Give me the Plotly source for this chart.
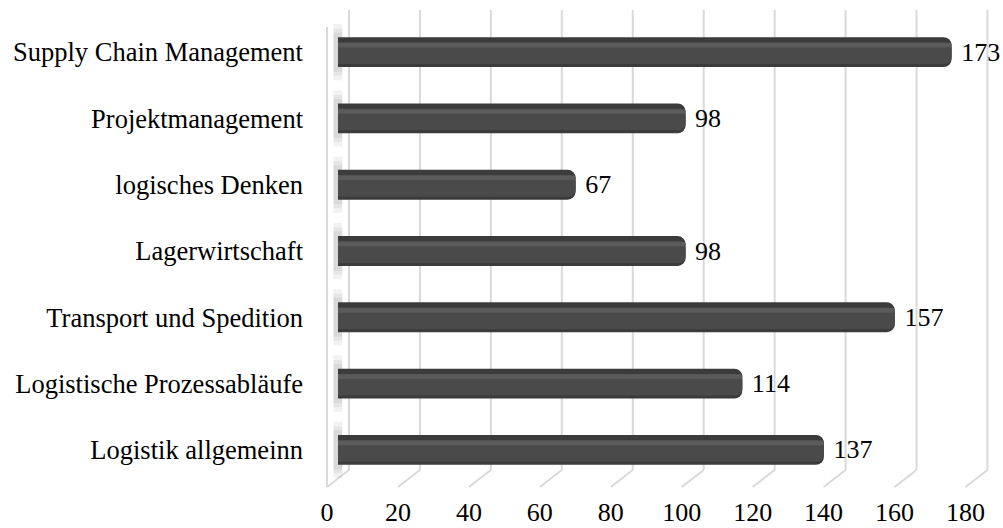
import plotly.graph_objects as go

categories = ["Supply Chain Management", "Projektmanagement", "logisches Denken",
              "Lagerwirtschaft", "Transport und Spedition",
              "Logistische Prozessabläufe", "Logistik allgemeinn"]
values = [173, 98, 67, 98, 157, 114, 137]
tick_values = [0, 20, 40, 60, 80, 100, 120, 140, 160, 180]
tick_labels = [str(v) for v in tick_values]

W, H = 1003, 528
ML, MR, MT, MB = 320, 0, 19, 45
PW = W - ML - MR
PH = H - MT - MB
S = 3.547            # px per unit
FRONT0 = 327         # px of value 0 on the front plane
DEPTH_X = 22         # px depth offset (x)
DEPTH_Y = 17         # px depth offset (y)
D = DEPTH_X / S

x2_lo = -(FRONT0 - ML) / S
x2_range = [x2_lo, x2_lo + PW / S]
x_range = [x2_range[0] - D / 2, x2_range[1] - D / 2]

def py(p):
    return (H - MB - p) / PH

FONT = "Liberation Serif, Times New Roman, serif"
GRID = "#d9d9d9"
BAR_W = 0.45

fig = go.Figure()

# bar layers (3D cylinder look)
fig.add_trace(go.Bar(y=categories, x=values, orientation="h", width=BAR_W,
                     marker=dict(color="#3b3b3b", cornerradius=8, line=dict(width=0)),
                     texttemplate=" %{x}", textposition="outside",
                     textfont=dict(family=FONT, size=26, color="#000000"),
                     cliponaxis=False, hoverinfo="x+y"))
fig.add_trace(go.Bar(y=categories, x=values, orientation="h", width=0.33, offset=-0.15,
                     marker=dict(color="#4a4a4a", cornerradius=7, line=dict(width=0)),
                     hoverinfo="skip"))
fig.add_trace(go.Bar(y=categories, x=values, orientation="h", width=0.07, offset=-0.14,
                     marker=dict(color="#5b5b5b", cornerradius=2, line=dict(width=0)),
                     hoverinfo="skip"))
# invisible trace to carry the front tick axis
fig.add_trace(go.Scatter(x=[tick_values[0], tick_values[-1]], y=[categories[0], categories[0]],
                         xaxis="x2", mode="markers", marker=dict(opacity=0),
                         hoverinfo="skip", showlegend=False))

shapes = []
for v in tick_values:
    shapes.append(dict(type="line", xref="x2", yref="paper",
                       x0=v + D, x1=v + D, y0=py(10), y1=py(470),
                       line=dict(color=GRID, width=2), layer="below"))
    shapes.append(dict(type="line", xref="x2", yref="paper",
                       x0=v + D, x1=v, y0=py(470), y1=py(470 + DEPTH_Y),
                       line=dict(color=GRID, width=2), layer="below"))
# left wall front edge
shapes.append(dict(type="line", xref="x2", yref="paper",
                   x0=0, x1=0, y0=py(27), y1=py(470 + DEPTH_Y),
                   line=dict(color=GRID, width=2), layer="below"))
# soft shadows of the bars on the left wall
for i in range(len(categories)):
    for k, ext in enumerate([0.2, 0.13, 0.07]):
        shapes.append(dict(type="rect", xref="x", yref="y",
                           x0=-1.3, x1=1.2,
                           y0=i - BAR_W / 2 - ext, y1=i + BAR_W / 2 + ext,
                           fillcolor="rgba(0,0,0,0.05)", line=dict(width=0),
                           layer="below"))

fig.update_layout(
    width=W, height=H,
    margin=dict(l=ML, r=MR, t=MT, b=MB, autoexpand=False),
    paper_bgcolor="white", plot_bgcolor="white",
    barmode="overlay", showlegend=False,
    shapes=shapes,
    xaxis=dict(range=x_range, showgrid=False, zeroline=False, showticklabels=False,
               showline=False, ticks="", automargin=False),
    xaxis2=dict(range=x2_range, overlaying="x", side="bottom", anchor="y",
                tickvals=tick_values, ticktext=tick_labels, showgrid=False,
                zeroline=False, showline=False, ticks="", ticklabelstandoff=11,
                automargin=False,
                tickfont=dict(family=FONT, size=26, color="#000000")),
    yaxis=dict(categoryorder="array", categoryarray=categories, autorange="reversed",
               range=[6.5, -0.5], showgrid=False, zeroline=False, showline=False,
               ticks="", ticklabelstandoff=16, automargin=False,
               tickfont=dict(family=FONT, size=26.5, color="#000000")),
)

fig.write_html("out.html", config={"displayModeBar": False},
               post_script="document.body.style.margin='0';document.body.style.overflow='hidden';")
